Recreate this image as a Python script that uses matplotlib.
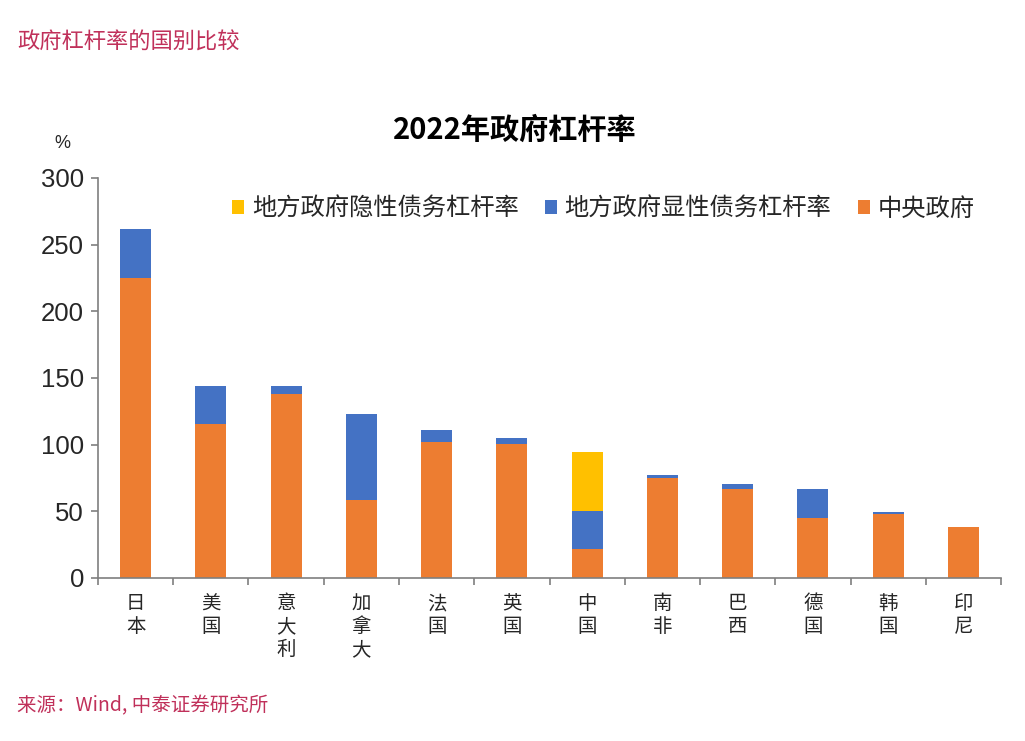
import matplotlib.pyplot as plt
import numpy as np

# 2022 government leverage by country (%)
countries = ["日本", "美国", "意大利", "加拿大", "法国", "英国",
             "中国", "南非", "巴西", "德国", "韩国", "印尼"]
central = [225.2, 115.7, 138.0, 58.5, 102.3, 100.2, 21.7, 74.7, 66.5, 44.7, 48.0, 38.0]
local_explicit = [36.5, 28.5, 6.2, 64.2, 8.7, 4.5, 28.5, 2.5, 3.7, 21.8, 1.8, 0.0]
local_hidden = [0, 0, 0, 0, 0, 0, 44.5, 0, 0, 0, 0, 0]

ORANGE = "#ED7D31"
BLUE = "#4472C4"
YELLOW = "#FFC000"
RED = "#C0305A"
AXIS = "#7F7F7F"

CJK = ["Noto Sans CJK SC", "DejaVu Sans"]
NUM = ["Liberation Sans", "Noto Sans CJK SC"]

fig = plt.figure(figsize=(10.25, 7.41), dpi=100)
ax = fig.add_axes([0.0956, 0.22, 0.881, 0.54])

x = np.arange(len(countries))
w = 0.41
central = np.array(central)
local_explicit = np.array(local_explicit)
local_hidden = np.array(local_hidden)

b1 = ax.bar(x, central, w, color=ORANGE, label="中央政府")
b2 = ax.bar(x, local_explicit, w, bottom=central, color=BLUE, label="地方政府显性债务杠杆率")
b3 = ax.bar(x, local_hidden, w, bottom=central + local_explicit, color=YELLOW,
            label="地方政府隐性债务杠杆率")

ax.set_xlim(-0.5, len(countries) - 0.5)
ax.set_ylim(0, 300)
ax.set_yticks(range(0, 301, 50))
ax.set_yticklabels([str(v) for v in range(0, 301, 50)], family=NUM, fontsize=18.5,
                   color="#262626")

ax.set_xticks(x)
ax.set_xticklabels(["\n".join(c) for c in countries], family=CJK, fontsize=14,
                   linespacing=1.12, va="top", color="#262626")
ax.set_xticks(np.arange(-0.5, len(countries)), minor=True)
ax.tick_params(axis="x", which="major", length=0, pad=11)
ax.tick_params(axis="x", which="minor", length=5, direction="out", color=AXIS, width=1.2)
ax.tick_params(axis="y", length=5, direction="out", color=AXIS, width=1.2, pad=5)

for s in ["top", "right"]:
    ax.spines[s].set_visible(False)
for s in ["left", "bottom"]:
    ax.spines[s].set_color(AXIS)
    ax.spines[s].set_linewidth(1.2)

leg = ax.legend(handles=[b3, b2, b1], loc="upper right", ncol=3, frameon=False,
                prop={"family": CJK, "size": 17.5}, handlelength=0.5, handleheight=0.5,
                handletextpad=0.3, columnspacing=1.1, bbox_to_anchor=(0.995, 1.01))
for t in leg.get_texts():
    t.set_color("#262626")

fig.text(0.061, 0.807, "%", family=NUM, fontsize=13, color="#262626", ha="center", va="center")
fig.text(0.502, 0.825, "2022年政府杠杆率", family=CJK, fontsize=21, fontweight="bold",
         ha="center", va="center", color="black")
fig.text(0.017, 0.943, "政府杠杆率的国别比较", family=CJK, fontsize=16, color=RED,
         ha="left", va="center")
fig.text(0.017, 0.048, "来源：Wind, 中泰证券研究所", family=CJK, fontsize=14, color=RED,
         ha="left", va="center")

fig.savefig("out.png", dpi=100)
